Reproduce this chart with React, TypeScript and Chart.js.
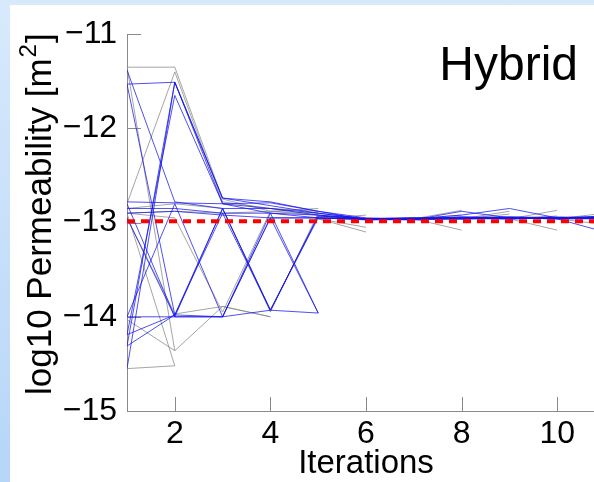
import React, { useEffect, useRef } from "react";
import { Chart, registerables } from "chart.js";

Chart.register(...registerables);

// Iteration numbers on the x axis
const iterations = [1, 2, 3, 4, 5, 6, 7, 8, 9, 10, 11];
const xTicks = [2, 4, 6, 8, 10];
const yTicks = [-15, -14, -13, -12, -11];

// Reference permeability (red dotted line)
const trueValue = -12.985;
// Value the chains settle on after iteration 5
const settledValue = -12.96;

// Accepted chains (blue), log10 permeability per iteration
const blueA = [-11.38, -12.78, -12.85, -12.85, -12.9, -12.96, -12.97, -12.96, -12.95, -12.95, -12.95];
const blueB = [-11.53, -11.51, -12.74, -12.78, -12.88, -12.97, -12.97, -12.88, -12.95, -12.96, -12.96];
const blueC = [-11.53, -13.98, -12.9, -13.93, -12.93, -12.96, -12.96, -12.92, -12.85, -12.95, -12.94];
const blueD = [-14.31, -11.51, -12.8, -12.85, -12.92, -12.96, -12.97, -12.96, -12.95, -12.96, -13.1];
const blueE = [-14.19, -11.65, -12.8, -12.9, -12.95, -12.97, -12.96, -12.94, -12.95, -12.95, -12.93];
const blueF = [-14.55, -11.51, -12.74, -12.82, -12.9, -12.96, -12.95, -12.96, -12.96, -12.95, -12.95];
const blueG = [-14.0, -14.0, -14.0, -12.9, -13.96, null, null, null, null, null, null];
const blueH = [-12.8, -14.0, -12.85, -13.93, -12.95, -12.96, -12.96, -12.95, -12.94, -12.95, -12.94];
const blueI = [-14.0, -12.8, -14.0, -12.95, -13.96, null, null, null, null, null, null];
const blueJ = [-12.85, -12.85, -12.9, -12.9, -12.92, -12.96, -12.96, -12.94, -12.95, -12.94, -12.95];
const blueK = [-12.78, -12.79, -12.8, -12.79, -12.88, -12.95, -12.96, -12.95, -12.94, -12.95, -12.94];
const blueL = [-12.95, -14.0, -14.0, -12.95, -12.95, -12.97, -12.96, -12.95, -12.96, -12.95, -12.96];
const blueM = [-14.19, -13.98, -12.85, -13.93, -12.93, -12.96, -12.95, -12.96, -12.95, -12.96, -12.95];
const blueN = [-12.9, -12.88, -12.92, -12.95, -12.95, -12.96, -12.95, -12.95, -12.96, -12.95, -12.95];
const blueO = [-14.31, -13.98, -14.0, -13.93, -13.96, null, null, null, null, null, null];

// Rejected proposals (gray)
const grayA = [-11.35, -11.35, -12.75, -12.88, -12.9, null, null, null, null, null, null];
const grayB = [-12.8, -11.4, -12.78, -12.85, -12.88, null, null, null, null, null, null];
const grayC = [-14.03, -14.36, -13.89, -14.0, null, null, null, null, null, null, null];
const grayD = [-14.55, -14.52, null, null, null, null, null, null, null, null, null];
const grayE = [-12.9, -14.52, null, null, null, null, null, null, null, null, null];
const grayF = [-11.35, -14.36, null, null, null, null, null, null, null, null, null];
const grayG = [-12.85, -12.8, -12.85, -13.95, -12.9, null, null, null, null, null, null];
const grayH = [-12.9, -12.95, -13.95, -12.88, -12.92, null, null, null, null, null, null];
const grayI = [-12.9, -12.88, -12.9, -12.88, -12.85, null, null, null, null, null, null];
const grayJ = [-12.95, -13.97, -13.89, -14.0, null, null, null, null, null, null, null];

// Late rejected proposals: one step away from the settled value
const fanFrom5 = [-12.92, -12.95, -13.05, -13.1];
const fanFrom7 = [-12.87, -12.92, -13.08];
const fanFrom8 = [-12.88, -12.91];
const fanFrom9 = [-12.87, -12.93, -13.08];
const fanFrom10 = [-12.9, -13.02];

const blueRuns = [blueA, blueB, blueC, blueD, blueE, blueF, blueG, blueH, blueI, blueJ, blueK, blueL, blueM, blueN, blueO];
const grayRuns = [grayA, grayB, grayC, grayD, grayE, grayF, grayG, grayH, grayI, grayJ];
const fans: [number, number[]][] = [
  [5, fanFrom5],
  [7, fanFrom7],
  [8, fanFrom8],
  [9, fanFrom9],
  [10, fanFrom10],
];

const FONT = '"Liberation Sans", Arial, Helvetica, sans-serif';
const axisColor = "#8a8a8a";
const blueColor = "rgba(20, 20, 235, 0.75)";
const grayColor = "rgba(135, 135, 135, 0.75)";

const toPoints = (run: (number | null)[]) =>
  run.map((v, i) => ({ x: iterations[i], y: v }));

const decorations = {
  id: "decorations",
  beforeDatasetsDraw(chart: any) {
    const { ctx, chartArea: a, scales } = chart;
    const x = scales.x;
    const y = scales.y;
    ctx.save();
    ctx.strokeStyle = axisColor;
    ctx.lineWidth = 1;
    ctx.beginPath();
    for (const v of yTicks) {
      const py = Math.round(y.getPixelForValue(v)) + 0.5;
      ctx.moveTo(a.left, py);
      ctx.lineTo(a.left + 14, py);
    }
    for (const v of xTicks) {
      const px = Math.round(x.getPixelForValue(v)) + 0.5;
      ctx.moveTo(px, a.bottom);
      ctx.lineTo(px, a.bottom - 14);
    }
    ctx.stroke();
    ctx.restore();
  },
  afterDraw(chart: any) {
    const { ctx } = chart;
    ctx.save();
    ctx.fillStyle = "#000";
    ctx.textBaseline = "alphabetic";

    // Panel label
    ctx.font = `48px ${FONT}`;
    ctx.textAlign = "right";
    ctx.fillText("Hybrid", 568, 75);

    // Rotated y axis title with a raised exponent
    ctx.textAlign = "left";
    ctx.translate(41, 390);
    ctx.rotate(-Math.PI / 2);
    const main = "log10 Permeability [m";
    ctx.font = `35px ${FONT}`;
    ctx.fillText(main, 0, 0);
    let pos = ctx.measureText(main).width + 1;
    ctx.font = `24px ${FONT}`;
    ctx.fillText("2", pos, -15);
    pos += ctx.measureText("2").width + 1;
    ctx.font = `35px ${FONT}`;
    ctx.fillText("]", pos, 0);
    ctx.restore();
  },
};

export default function App() {
  const canvasRef = useRef<HTMLCanvasElement | null>(null);

  useEffect(() => {
    const canvas = canvasRef.current;
    if (!canvas) return;

    const datasets: any[] = [];
    datasets.push({
      data: [
        { x: iterations[0], y: trueValue },
        { x: iterations[iterations.length - 1], y: trueValue },
      ],
      borderColor: "#ff0000",
      borderWidth: 4,
      borderDash: [8, 6],
      pointRadius: 0,
    });
    for (const run of blueRuns) {
      datasets.push({
        data: toPoints(run),
        borderColor: blueColor,
        borderWidth: 1,
        pointRadius: 0,
        spanGaps: false,
      });
    }
    for (const run of grayRuns) {
      datasets.push({
        data: toPoints(run),
        borderColor: grayColor,
        borderWidth: 1,
        pointRadius: 0,
        spanGaps: false,
      });
    }
    for (const [start, tips] of fans) {
      for (const tip of tips) {
        datasets.push({
          data: [
            { x: start, y: settledValue },
            { x: start + 1, y: tip },
          ],
          borderColor: grayColor,
          borderWidth: 1,
          pointRadius: 0,
        });
      }
    }

    const chart = new Chart(canvas, {
      type: "line",
      data: { datasets },
      plugins: [decorations],
      options: {
        responsive: false,
        maintainAspectRatio: false,
        animation: false,
        layout: { padding: { top: 23, right: 0, bottom: 0, left: 0 } },
        elements: { line: { tension: 0 } },
        plugins: {
          legend: { display: false },
          tooltip: { enabled: false },
        },
        scales: {
          x: {
            type: "linear",
            min: 1,
            max: 11,
            afterBuildTicks: (s: any) => {
              s.ticks = xTicks.map((v) => ({ value: v }));
            },
            afterFit: (s: any) => {
              s.height = 71;
            },
            grid: { display: false, drawTicks: false },
            border: { display: true, color: axisColor, width: 1 },
            ticks: {
              color: "#000",
              font: { family: FONT, size: 32 },
              padding: 4,
              maxRotation: 0,
              autoSkip: false,
            },
            title: {
              display: true,
              text: "Iterations",
              color: "#000",
              font: { family: FONT, size: 33 },
              padding: { top: 0, bottom: -2 },
            },
          },
          y: {
            type: "linear",
            min: -15,
            max: -11,
            afterBuildTicks: (s: any) => {
              s.ticks = yTicks.map((v) => ({ value: v }));
            },
            afterFit: (s: any) => {
              s.width = 117;
            },
            grid: { display: false, drawTicks: false },
            border: { display: true, color: axisColor, width: 1 },
            ticks: {
              color: "#000",
              font: { family: FONT, size: 32 },
              padding: 10,
              callback: (v: any) => String(v).replace("-", "\u2212"),
            },
          },
        },
      },
    });

    return () => chart.destroy();
  }, []);

  return (
    <div
      style={{
        position: "fixed",
        left: 0,
        top: 0,
        width: 594,
        height: 482,
        overflow: "hidden",
        background: "linear-gradient(to bottom, #d8e9fc, #b6d6f8)",
      }}
    >
      <div
        style={{
          position: "absolute",
          left: 10,
          top: 5,
          right: 0,
          bottom: 0,
          background: "#ffffff",
        }}
      />
      <canvas
        ref={canvasRef}
        width={595}
        height={477}
        style={{ position: "absolute", left: 10, top: 5, width: 595, height: 477 }}
      />
    </div>
  );
}
